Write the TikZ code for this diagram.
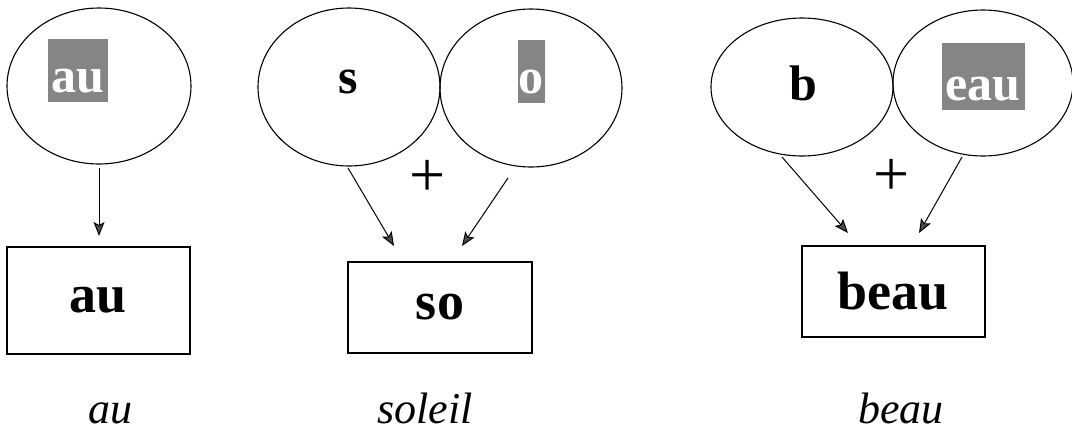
\documentclass[tikz,border=0pt]{standalone}
\usepackage{fontspec}
\setmainfont{Liberation Serif}
\usetikzlibrary{shapes.geometric,arrows.meta}
\definecolor{hlgray}{rgb}{0.52,0.52,0.52}
\definecolor{tipgray}{rgb}{0.3,0.3,0.3}
\begin{document}
\begin{tikzpicture}[x=1pt,y=-1pt,
  oval/.style={draw=black,line width=1.1pt,ellipse,inner sep=0pt},
  wordbox/.style={draw=black,line width=1.5pt,rectangle,inner sep=0pt},
  hlbox/.style={fill=hlgray,rectangle,inner sep=0pt},
  elltext/.style={font=\fontsize{50}{50}\selectfont\bfseries,inner sep=0pt,anchor=base},
  whitetext/.style={elltext,text=white},
  boxtext/.style={font=\fontsize{54}{54}\selectfont\bfseries,inner sep=0pt},
  captext/.style={font=\fontsize{44}{44}\selectfont\itshape,inner sep=0pt},
  plustext/.style={font=\fontsize{64}{64}\selectfont,inner sep=0pt},
  conn/.style={line width=1pt,-{Stealth[length=14pt,width=11pt,inset=3pt,fill=tipgray]}}]
\useasboundingbox (0,0) rectangle (1072,432);
\fill[white] (0,0) rectangle (1072,432);

% ellipses
\node[oval,minimum width=184,minimum height=156] (e1) at (99,86) {};
\node[oval,minimum width=182,minimum height=158] (e2) at (349,87) {};
\node[oval,minimum width=182,minimum height=158] (e3) at (531,88) {};
\node[oval,minimum width=182,minimum height=138] (e4) at (802,87) {};
\node[oval,minimum width=180,minimum height=146] (e5) at (983,83) {};

% highlighted and plain letters in the ellipses
\node[hlbox,minimum width=60,minimum height=63] (h1) at (78,70) {};
\node[whitetext] (t1) at (78,92) {au};
\node[elltext] (t2) at (348,93) {s};
\node[hlbox,minimum width=27,minimum height=63] (h3) at (531,71) {};
\node[whitetext] (t3) at (531,93) {o};
\node[elltext] (t4) at (803,100) {b};
\node[hlbox,minimum width=83,minimum height=67] (h5) at (983,76) {};
\node[whitetext] (t5) at (983,100) {eau};

% plus signs
\node[plustext] (p1) at (428,178) {+};
\node[plustext] (p2) at (892,177) {+};

% result boxes
\node[wordbox,minimum width=183,minimum height=107] (b1) at (98.5,300.5) {};
\node[boxtext] (w1) at (98,300) {au};
\node[wordbox,minimum width=184,minimum height=91] (b2) at (440,307.5) {};
\node[boxtext] (w2) at (440,307) {so};
\node[wordbox,minimum width=183,minimum height=91] (b3) at (893.5,291.5) {};
\node[boxtext] (w3) at (893,291) {beau};

% captions
\node[captext] (c1) at (110,413) {au};
\node[captext] (c2) at (425,408) {soleil};
\node[captext] (c3) at (901,408) {beau};

% connector end points
\coordinate (s1) at (99,168);
\coordinate (f1) at (99,236);
\coordinate (s2) at (348,168);
\coordinate (f2) at (394,246);
\coordinate (s3) at (508,178);
\coordinate (f3) at (462,246);
\coordinate (s4) at (782,157);
\coordinate (f4) at (848,233);
\coordinate (s5) at (962,157);
\coordinate (f5) at (919,233);

\draw[conn] (s1) -- (f1);
\draw[conn] (s2) -- (f2);
\draw[conn] (s3) -- (f3);
\draw[conn] (s4) -- (f4);
\draw[conn] (s5) -- (f5);
\end{tikzpicture}
\end{document}
